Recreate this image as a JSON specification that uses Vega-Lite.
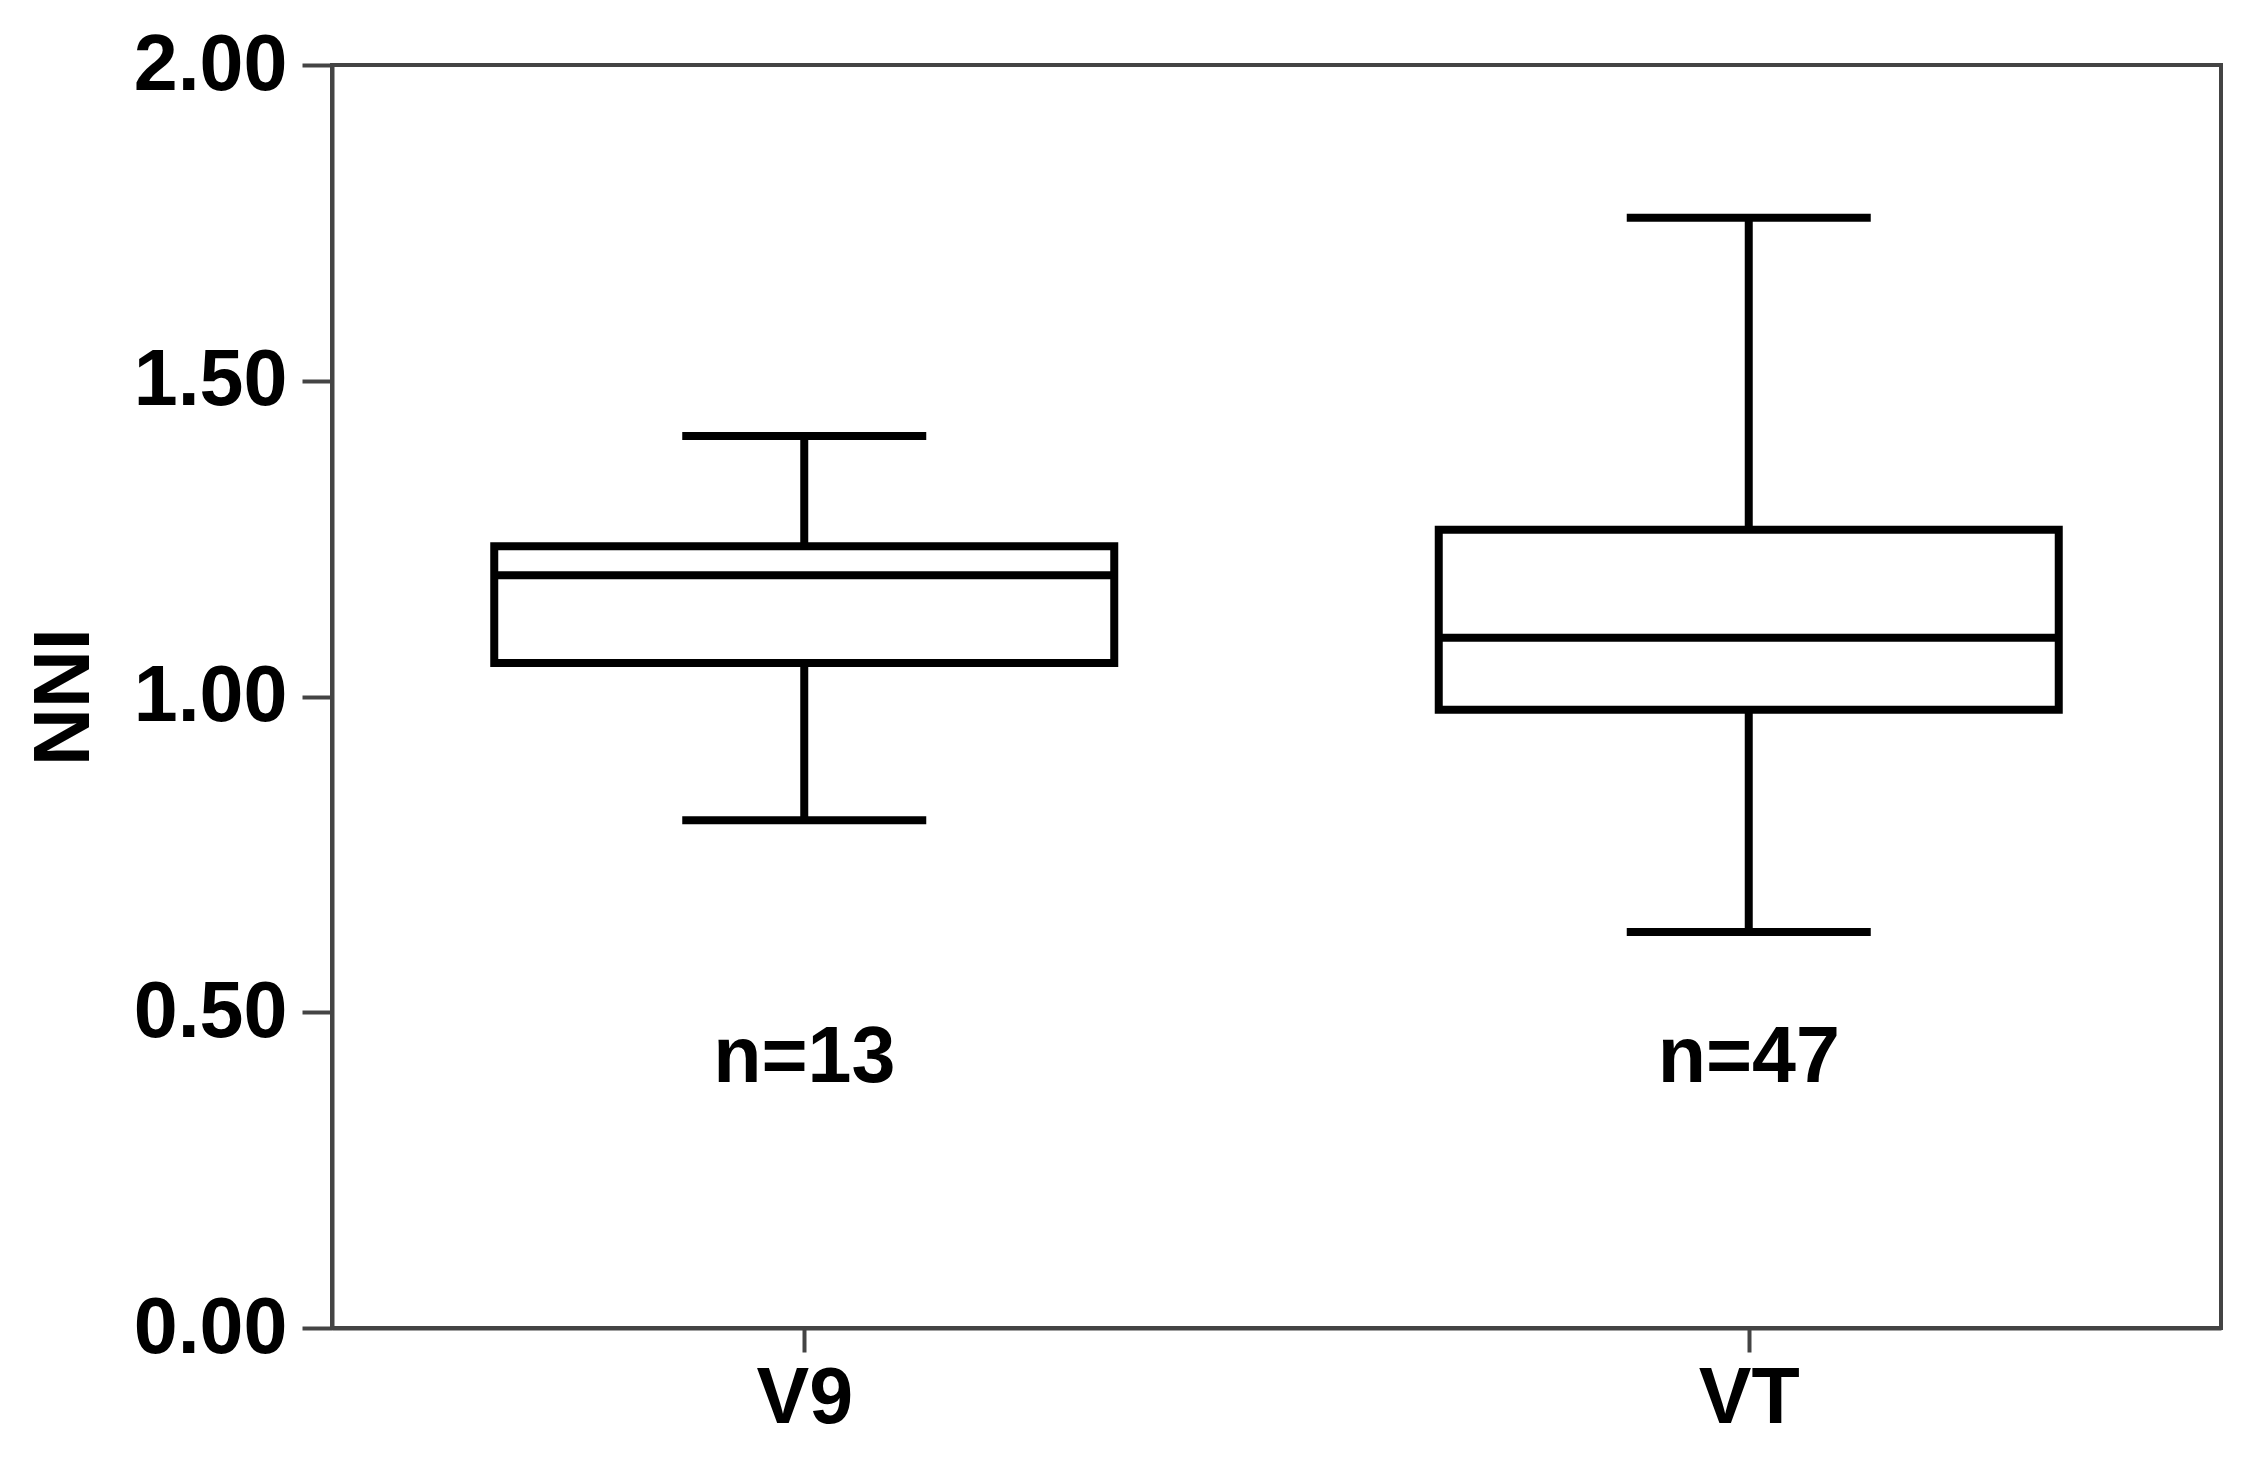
{
  "$schema": "https://vega.github.io/schema/vega-lite/v6.json",
  "autosize": {"type": "none"},
  "width": 1889,
  "height": 1263,
  "padding": {"left": 332, "top": 65, "right": 37, "bottom": 134},
  "background": "white",
  "config": {
    "font": "Liberation Sans",
    "view": {"stroke": "#444444", "strokeWidth": 4},
    "axis": {
      "grid": false,
      "domainColor": "#444444",
      "domainWidth": 4,
      "tickColor": "#444444",
      "tickWidth": 4,
      "labelFont": "Liberation Sans",
      "labelFontWeight": "bold",
      "labelFontSize": 79,
      "labelColor": "black",
      "titleFont": "Liberation Sans",
      "titleFontWeight": "bold",
      "titleFontSize": 80,
      "titleColor": "black"
    }
  },
  "data": {
    "values": [
      {"group": "V9", "min": 0.804, "q1": 1.053, "median": 1.192, "q3": 1.238, "max": 1.4125, "n": "n=13"},
      {"group": "VT", "min": 0.627, "q1": 0.979, "median": 1.093, "q3": 1.264, "max": 1.758, "n": "n=47"}
    ]
  },
  "encoding": {
    "x": {
      "field": "group",
      "type": "nominal",
      "scale": {"type": "point", "padding": 0.5},
      "axis": {"title": null, "labelAngle": 0, "tickSize": 24, "labelPadding": 8}
    }
  },
  "layer": [
    {
      "mark": {"type": "rule", "color": "black", "strokeWidth": 8},
      "encoding": {
        "y": {
          "field": "min",
          "type": "quantitative",
          "scale": {"domain": [0, 2], "nice": false, "zero": false},
          "axis": {
            "title": "NNI",
            "values": [0, 0.5, 1, 1.5, 2],
            "format": ".2f",
            "tickSize": 30,
            "labelPadding": 15,
            "titlePadding": 28
          }
        },
        "y2": {"field": "q1"}
      }
    },
    {
      "mark": {"type": "rule", "color": "black", "strokeWidth": 8},
      "encoding": {
        "y": {"field": "q3", "type": "quantitative"},
        "y2": {"field": "max"}
      }
    },
    {
      "mark": {"type": "tick", "color": "black", "size": 244, "thickness": 8, "opacity": 1},
      "encoding": {"y": {"field": "min", "type": "quantitative"}}
    },
    {
      "mark": {"type": "tick", "color": "black", "size": 244, "thickness": 8, "opacity": 1},
      "encoding": {"y": {"field": "max", "type": "quantitative"}}
    },
    {
      "mark": {"type": "bar", "fill": "white", "stroke": "black", "strokeWidth": 8, "size": 620},
      "encoding": {
        "y": {"field": "q1", "type": "quantitative"},
        "y2": {"field": "q3"}
      }
    },
    {
      "mark": {"type": "tick", "color": "black", "size": 620, "thickness": 8, "opacity": 1},
      "encoding": {"y": {"field": "median", "type": "quantitative"}}
    },
    {
      "mark": {"type": "text", "font": "Liberation Sans", "fontWeight": "bold", "fontSize": 79, "color": "black", "baseline": "middle", "align": "center"},
      "encoding": {
        "y": {"datum": 0.428, "type": "quantitative"},
        "text": {"field": "n"}
      }
    }
  ]
}
